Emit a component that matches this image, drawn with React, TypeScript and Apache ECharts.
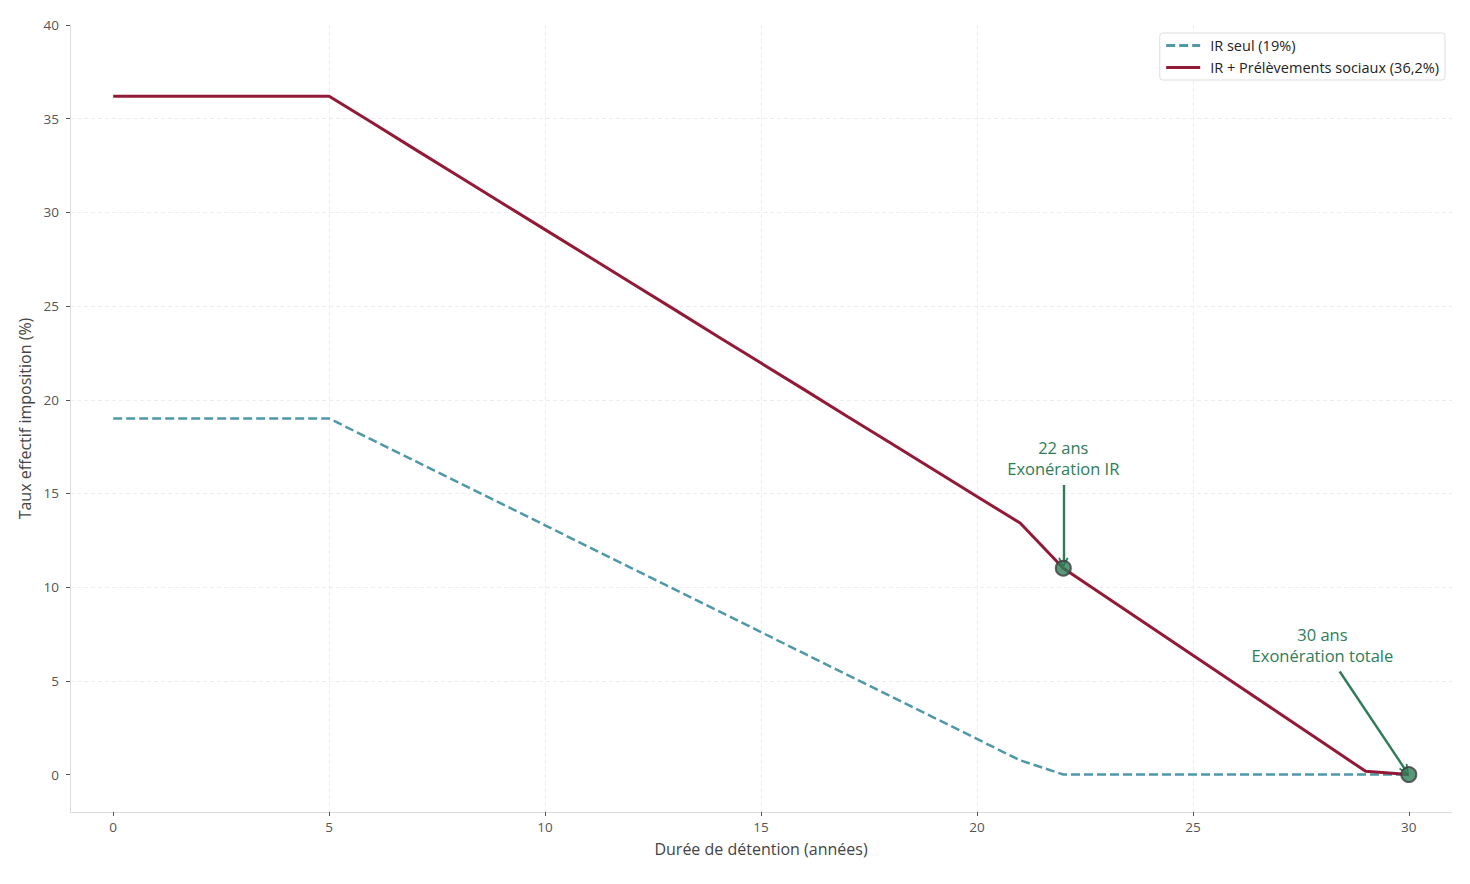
import { useEffect, useRef } from "react";
import * as echarts from "echarts";

// années de détention 0..30
const years = [
  0, 1, 2, 3, 4, 5, 6, 7, 8, 9, 10, 11, 12, 13, 14, 15, 16, 17, 18, 19, 20,
  21, 22, 23, 24, 25, 26, 27, 28, 29, 30,
];
const irSeul = [
  19, 19, 19, 19, 19, 19, 17.86, 16.72, 15.58, 14.44, 13.3, 12.16, 11.02,
  9.88, 8.74, 7.6, 6.46, 5.32, 4.18, 3.04, 1.9, 0.76, 0, 0, 0, 0, 0, 0, 0, 0,
  0,
];
const irPlusPs = [
  36.2, 36.2, 36.2, 36.2, 36.2, 36.2, 34.78, 33.35, 31.93, 30.5, 29.08, 27.66,
  26.23, 24.81, 23.38, 21.96, 20.54, 19.11, 17.69, 16.27, 14.84, 13.42, 11.01,
  9.46, 7.91, 6.36, 4.82, 3.27, 1.72, 0.17, 0,
];
const xTicks = [0, 5, 10, 15, 20, 25, 30];
const yTicks = [0, 5, 10, 15, 20, 25, 30, 35, 40];

const seriesNames = ["IR seul (19%)", "IR + Prélèvements sociaux (36,2%)"];
const milestoneYears = [22, 30];
const milestoneLabels = ["22 ans\nExonération IR", "30 ans\nExonération totale"];
// position des textes et flèches (coordonnées données)
const labelPos = [
  [22, 16.9],
  [28.0, 6.9],
];
const arrowFrom = [
  [22, 15.45],
  [28.4, 5.5],
];
const arrowTo = [
  [22, 11.3],
  [29.93, 0.22],
];

const RED = "#931a36";
const BLUE = "#4f98a9";
const GREEN = "#2e7d57";
const FONT = "'Open Sans', 'Noto Sans', sans-serif";
const CHEVRON = "path://M5,0 L10,9 L8.6,10 L5,3.4 L1.4,10 L0,9 Z";

export default function App() {
  const chartRef = useRef<HTMLDivElement>(null);

  useEffect(() => {
    document.body.style.margin = "0";
    if (!chartRef.current) return;
    const chart = echarts.init(chartRef.current, null, { renderer: "svg" });

    const idx = milestoneYears.map((y) => years.indexOf(y));

    const option: echarts.EChartsOption = {
      animation: false,
      backgroundColor: "#ffffff",
      textStyle: { fontFamily: FONT },
      grid: { left: 70, right: 18, top: 25, bottom: 72 },
      legend: {
        orient: "vertical",
        right: 25,
        top: 33,
        data: seriesNames,
        backgroundColor: "#ffffff",
        borderColor: "#dddddd",
        borderWidth: 1,
        borderRadius: 3,
        padding: [5, 6, 5, 5],
        itemGap: 7,
        itemWidth: 34,
        itemHeight: 14,
        itemStyle: { opacity: 0 },
        lineStyle: { width: 2.8 },
        textStyle: {
          fontSize: 14.5,
          color: "#222222",
          fontFamily: FONT,
          padding: [0, 0, 0, 5],
        },
      },
      xAxis: {
        type: "value",
        min: -1,
        max: 31,
        name: "Durée de détention (années)",
        nameLocation: "middle",
        nameGap: 29,
        nameTextStyle: { fontSize: 16, color: "#444444", fontFamily: FONT },
        axisLine: {
          show: true,
          onZero: false,
          lineStyle: { color: "#dddddd", width: 1 },
        },
        axisTick: {
          show: true,
          length: 4,
          customValues: xTicks,
          lineStyle: { color: "#555555" },
        },
        axisLabel: {
          customValues: xTicks,
          margin: 8,
          fontSize: 13.5,
          color: "#555555",
          fontFamily: FONT,
        },
        splitLine: {
          show: true,
          showMinLine: false,
          showMaxLine: false,
          lineStyle: { color: "#e8e8e8", width: 0.8, type: [4, 3] },
        },
      },
      yAxis: {
        type: "value",
        min: -2,
        max: 40,
        name: "Taux effectif imposition (%)",
        nameLocation: "middle",
        nameGap: 36,
        nameRotate: 90,
        nameTextStyle: { fontSize: 16, color: "#444444", fontFamily: FONT },
        axisLine: {
          show: true,
          onZero: false,
          lineStyle: { color: "#dddddd", width: 1 },
        },
        axisTick: {
          show: true,
          length: 4,
          customValues: yTicks,
          lineStyle: { color: "#555555" },
        },
        axisLabel: {
          customValues: yTicks,
          margin: 11,
          fontSize: 13.5,
          color: "#555555",
          fontFamily: FONT,
        },
        splitLine: {
          show: true,
          showMinLine: false,
          showMaxLine: false,
          lineStyle: { color: "#e8e8e8", width: 0.8, type: [4, 3] },
        },
      },
      series: [
        {
          name: seriesNames[0],
          type: "line",
          data: years.map((y, i) => [y, irSeul[i]]),
          symbol: "none",
          lineStyle: { color: BLUE, width: 2.5, type: [9, 4] },
          itemStyle: { color: BLUE },
          z: 2,
        },
        {
          name: seriesNames[1],
          type: "line",
          data: years.map((y, i) => [y, irPlusPs[i]]),
          symbol: "none",
          lineStyle: { color: RED, width: 3 },
          itemStyle: { color: RED },
          z: 3,
        },
        {
          name: "jalons",
          type: "scatter",
          data: idx.map((i) => [years[i], irPlusPs[i]]),
          symbol: "circle",
          symbolSize: 15,
          itemStyle: { color: GREEN, borderColor: "#3d3d3d", borderWidth: 2 },
          z: 5,
          silent: true,
          markPoint: {
            silent: true,
            symbol: "circle",
            symbolSize: 1,
            itemStyle: { color: "rgba(0,0,0,0)" },
            label: {
              show: true,
              position: "inside",
              color: GREEN,
              fontSize: 16.5,
              lineHeight: 21,
              fontFamily: FONT,
              align: "center",
              verticalAlign: "middle",
            },
            data: labelPos.map((p, i) => ({
              coord: p,
              label: { formatter: milestoneLabels[i] },
            })),
          },
          markLine: {
            silent: true,
            symbol: ["none", CHEVRON],
            symbolSize: [10, 11],
            label: { show: false },
            lineStyle: { color: GREEN, width: 2.4, type: "solid" },
            data: arrowFrom.map((p, i) => [
              { coord: p },
              { coord: arrowTo[i] },
            ]) as any,
          },
        },
      ],
    };

    chart.setOption(option);

    const handleResize = () => chart.resize();
    window.addEventListener("resize", handleResize);
    return () => {
      window.removeEventListener("resize", handleResize);
      chart.dispose();
    };
  }, []);

  return <div ref={chartRef} style={{ width: 1470, height: 884 }} />;
}
